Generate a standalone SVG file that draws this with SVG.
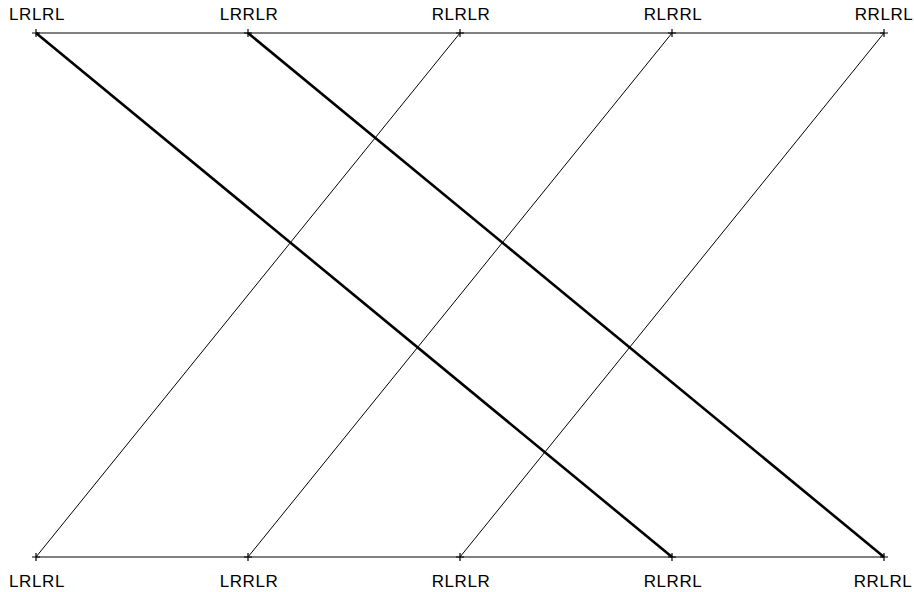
<svg xmlns="http://www.w3.org/2000/svg" width="914" height="592" viewBox="0 0 914 592">
<defs>
<style>
.lbl{font-family:"Liberation Sans",Arial,sans-serif;font-size:17px;fill:#000;text-anchor:middle;letter-spacing:0.6px}
.thin{stroke:#000;stroke-width:1;fill:none}
.thick{stroke:#000;stroke-width:2.6;fill:none}
.tick{stroke:#000;stroke-width:1.2;fill:none}
</style>
<path id="plus" class="tick" d="M-4,0H4M0,-4V4"/>
</defs>
<rect width="914" height="592" fill="#fff"/>
<g id="connectors">
<line class="thin" x1="36" y1="33" x2="884" y2="33"/>
<line class="thin" x1="36" y1="557" x2="884" y2="557"/>
<line class="thin" x1="460" y1="33" x2="36" y2="557"/>
<line class="thin" x1="672" y1="33" x2="248" y2="557"/>
<line class="thin" x1="884" y1="33" x2="460" y2="557"/>
<line class="thick" x1="36" y1="33" x2="672" y2="557"/>
<line class="thick" x1="248" y1="33" x2="884" y2="557"/>
</g>
<g id="top-LRLRL"><use href="#plus" x="36" y="33"/><text class="lbl" x="37" y="20">LRLRL</text></g>
<g id="top-LRRLR"><use href="#plus" x="248" y="33"/><text class="lbl" x="249" y="20">LRRLR</text></g>
<g id="top-RLRLR"><use href="#plus" x="460" y="33"/><text class="lbl" x="461" y="20">RLRLR</text></g>
<g id="top-RLRRL"><use href="#plus" x="672" y="33"/><text class="lbl" x="673" y="20">RLRRL</text></g>
<g id="top-RRLRL"><use href="#plus" x="884" y="33"/><text class="lbl" x="884" y="20">RRLRL</text></g>
<g id="bot-LRLRL"><use href="#plus" x="36" y="557"/><text class="lbl" x="37" y="587">LRLRL</text></g>
<g id="bot-LRRLR"><use href="#plus" x="248" y="557"/><text class="lbl" x="249" y="587">LRRLR</text></g>
<g id="bot-RLRLR"><use href="#plus" x="460" y="557"/><text class="lbl" x="461" y="587">RLRLR</text></g>
<g id="bot-RLRRL"><use href="#plus" x="672" y="557"/><text class="lbl" x="673" y="587">RLRRL</text></g>
<g id="bot-RRLRL"><use href="#plus" x="884" y="557"/><text class="lbl" x="883" y="587">RRLRL</text></g>
</svg>
